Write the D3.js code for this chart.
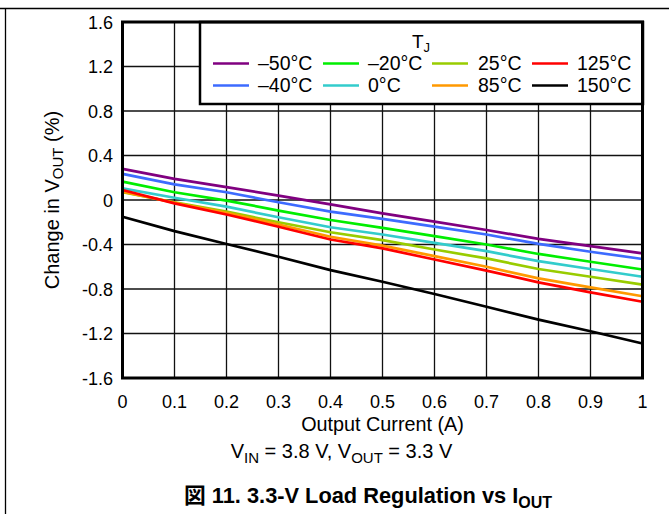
<!DOCTYPE html>
<html>
<head>
<meta charset="utf-8">
<script src="https://cdn.jsdelivr.net/npm/d3@7/dist/d3.min.js"></script>
<style>
  body { margin: 0; background: #fff; }
  text { font-family: "Liberation Sans", Arial, sans-serif; }
</style>
</head>
<body>
<script>
  // output current (A)
  var current = [0, 0.1, 0.2, 0.3, 0.4, 0.5, 0.6, 0.7, 0.8, 0.9, 1];

  var tempLabels = ["\u201350\u00b0C", "\u201340\u00b0C", "\u201320\u00b0C", "0\u00b0C", "25\u00b0C", "85\u00b0C", "125\u00b0C", "150\u00b0C"];
  var tempColors = ["#800080", "#3d6bff", "#00ee00", "#33cccc", "#99cc00", "#ff9900", "#ff0000", "#000000"];

  // change in Vout (%) per temperature
  var tm50 = [0.28, 0.19, 0.115, 0.04, -0.04, -0.12, -0.195, -0.27, -0.35, -0.415, -0.48];
  var tm40 = [0.235, 0.14, 0.07, -0.02, -0.105, -0.17, -0.24, -0.31, -0.395, -0.465, -0.53];
  var tm20 = [0.165, 0.07, -0.005, -0.095, -0.18, -0.25, -0.325, -0.40, -0.485, -0.555, -0.625];
  var t0 = [0.105, 0.02, -0.06, -0.155, -0.245, -0.31, -0.385, -0.46, -0.55, -0.62, -0.69];
  var t25 = [0.07, -0.02, -0.105, -0.2, -0.29, -0.36, -0.445, -0.525, -0.62, -0.69, -0.76];
  var t85 = [0.075, -0.025, -0.115, -0.22, -0.33, -0.41, -0.505, -0.60, -0.705, -0.785, -0.865];
  var t125 = [0.09, -0.03, -0.13, -0.24, -0.355, -0.435, -0.535, -0.635, -0.74, -0.83, -0.915];
  var t150 = [-0.15, -0.28, -0.395, -0.51, -0.63, -0.735, -0.845, -0.96, -1.075, -1.18, -1.29];
  var allSeries = [tm50, tm40, tm20, t0, t25, t85, t125, t150];

  var xTicks = [0, 0.1, 0.2, 0.3, 0.4, 0.5, 0.6, 0.7, 0.8, 0.9, 1];
  var yTicks = [-1.6, -1.2, -0.8, -0.4, 0, 0.4, 0.8, 1.2, 1.6];
  var yTickLabels = ["-1.6", "-1.2", "-0.8", "-0.4", "0", "0.4", "0.8", "1.2", "1.6"];

  var W = 669, H = 514;
  var svg = d3.select("body").append("svg").attr("width", W).attr("height", H);

  var x = d3.scaleLinear().domain([0, 1]).range([122.5, 642.5]);
  var y = d3.scaleLinear().domain([-1.6, 1.6]).range([378, 22]);

  // page frame lines
  svg.append("line").attr("x1", 0).attr("x2", W).attr("y1", 8.5).attr("y2", 8.5)
    .attr("stroke", "#000").attr("stroke-width", 1.3);
  svg.append("line").attr("x1", 5.5).attr("x2", 5.5).attr("y1", 8).attr("y2", H)
    .attr("stroke", "#000").attr("stroke-width", 1.3);

  // grid
  svg.append("g").selectAll("line").data(xTicks).enter().append("line")
    .attr("x1", function (d) { return x(d); }).attr("x2", function (d) { return x(d); })
    .attr("y1", y(-1.6)).attr("y2", y(1.6))
    .attr("stroke", "#111").attr("stroke-width", 1.3);
  svg.append("g").selectAll("line").data(yTicks).enter().append("line")
    .attr("x1", x(0)).attr("x2", x(1))
    .attr("y1", function (d) { return y(d); }).attr("y2", function (d) { return y(d); })
    .attr("stroke", "#111").attr("stroke-width", 1.3);

  // series
  var line = d3.line()
    .x(function (d, i) { return x(current[i]); })
    .y(function (d) { return y(d); });
  svg.append("g").selectAll("path").data(allSeries).enter().append("path")
    .attr("d", line)
    .attr("fill", "none")
    .attr("stroke", function (d, i) { return tempColors[i]; })
    .attr("stroke-width", 2.7);

  // legend
  var lg = svg.append("g");
  lg.append("rect").attr("x", 200).attr("y", 22).attr("width", 443).attr("height", 82)
    .attr("fill", "#fff").attr("stroke", "#000").attr("stroke-width", 2.5);
  lg.append("text").attr("x", 412).attr("y", 48).attr("font-size", 19)
    .text("T").append("tspan").attr("font-size", 13).attr("dy", 4).text("J");
  var colX = [213, 323, 432, 532];
  var textX = [258, 368, 478, 577];
  var rowY = [63.5, 85.5];
  tempLabels.forEach(function (lab, i) {
    var c = Math.floor(i / 2), r = i % 2;
    lg.append("line").attr("x1", colX[c]).attr("x2", colX[c] + 36)
      .attr("y1", rowY[r]).attr("y2", rowY[r])
      .attr("stroke", tempColors[i]).attr("stroke-width", 2.7);
    lg.append("text").attr("x", textX[c]).attr("y", rowY[r] + 6.8)
      .attr("font-size", 19.5).text(lab);
  });

  // plot frame
  svg.append("rect").attr("x", x(0)).attr("y", y(1.6))
    .attr("width", x(1) - x(0)).attr("height", y(-1.6) - y(1.6))
    .attr("fill", "none").attr("stroke", "#000").attr("stroke-width", 3);

  // tick labels
  svg.append("g").selectAll("text").data(xTicks).enter().append("text")
    .attr("x", function (d) { return x(d); }).attr("y", 408)
    .attr("text-anchor", "middle").attr("font-size", 18)
    .text(function (d) { return d; });
  svg.append("g").selectAll("text").data(yTicks).enter().append("text")
    .attr("x", 113).attr("y", function (d) { return y(d) + 6.5; })
    .attr("text-anchor", "end").attr("font-size", 18)
    .text(function (d, i) { return yTickLabels[i]; });

  // axis titles
  svg.append("text").attr("x", 382.5).attr("y", 431).attr("text-anchor", "middle")
    .attr("font-size", 19.8).text("Output Current (A)");
  var yt = svg.append("text").attr("transform", "translate(59,200) rotate(-90)")
    .attr("text-anchor", "middle").attr("font-size", 20);
  yt.append("tspan").text("Change in V");
  yt.append("tspan").attr("font-size", 15).attr("dy", 4).text("OUT");
  yt.append("tspan").attr("dy", -4).text(" (%)");

  var st = svg.append("text").attr("x", 341.5).attr("y", 458).attr("text-anchor", "middle")
    .attr("font-size", 20);
  st.append("tspan").text("V");
  st.append("tspan").attr("font-size", 15).attr("dy", 5).text("IN");
  st.append("tspan").attr("dy", -5).text(" = 3.8 V, V");
  st.append("tspan").attr("font-size", 15).attr("dy", 5).text("OUT");
  st.append("tspan").attr("dy", -5).text(" = 3.3 V");

  var cap = svg.append("text").attr("x", 368).attr("y", 503).attr("text-anchor", "middle")
    .attr("font-size", 21.8).attr("font-weight", "bold")
    .style("font-family", "'Liberation Sans', 'Noto Sans CJK JP', sans-serif");
  cap.append("tspan").text("\u56f3 11. 3.3-V Load Regulation vs I");
  cap.append("tspan").attr("font-size", 16).attr("dy", 5).text("OUT");
</script>
</body>
</html>
